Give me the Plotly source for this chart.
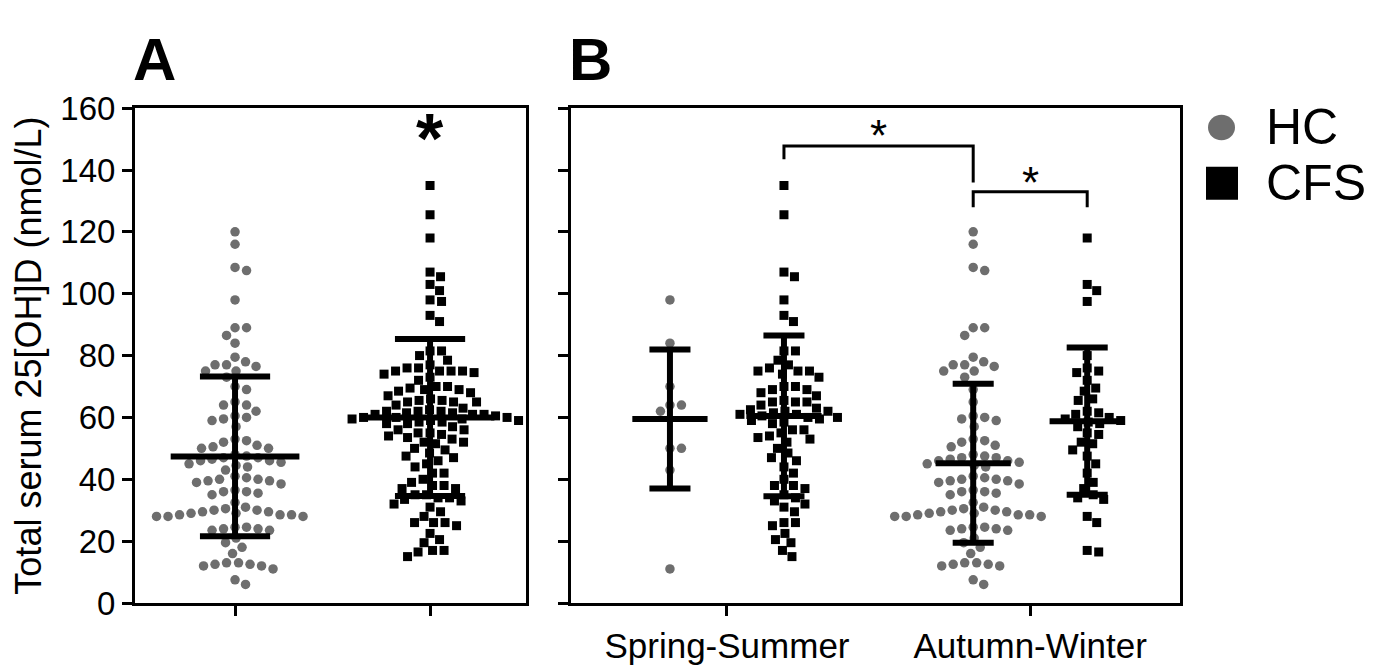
import numpy as np
import plotly.graph_objects as go

# ---------------- data (nmol/L) ----------------
ss_hc = [98, 84, 70, 64, 64, 62, 50, 50, 43, 11]
ss_cfs = [135, 125.5, 107, 105.5, 98, 93, 91, 81.5, 81.5, 78.5, 77, 76, 75, 75, 75, 74, 73,
          70, 70, 69, 69, 68, 67, 65.5, 65, 65, 65, 64, 63, 62.5, 62, 62, 61.5, 61, 61,
          60.5, 60, 60, 59.5, 59, 58.5, 58, 56, 56, 55, 54, 53.5, 53, 52, 50, 48.5, 47,
          46, 44, 42, 40, 38, 38, 37, 35, 34, 33, 32, 31, 29.5, 26, 26, 25, 22.5, 20.5,
          19.5, 17, 15]
aw_hc = [120, 116, 108.5, 107.5, 89, 89, 86.5, 79.5, 78, 77, 77, 76.5, 75, 75, 73, 69, 65,
         60.5, 60, 59.5, 59, 57, 53, 52.5, 52, 51, 50.5, 48, 47.5, 47, 47, 46.5, 46, 46,
         45.5, 45, 44.5, 44, 41, 40.5, 40, 40, 39.5, 39.5, 39, 38.5, 36.5, 36, 36, 35.5,
         35, 32.5, 31, 30.5, 30, 29.5, 29, 28.5, 28.5, 28, 28, 28, 28.5, 29, 29.5, 30,
         24.5, 24, 23.5, 23.5, 24, 24.5, 21, 19.5, 18, 16, 13, 12.5, 12, 12, 12.5, 13,
         7.5, 6]
aw_cfs = [118, 103, 101, 97.5, 80, 76, 75, 74.5, 72, 69.5, 68.5, 66, 65.5, 62, 61.5, 61,
          60, 59.5, 59, 58.5, 58, 57, 55, 54.5, 52, 51.5, 49.5, 47.5, 45, 42, 39, 37, 35,
          34, 33.5, 28, 26, 17, 16.5]
hc_all = ss_hc + aw_hc
cfs_all = ss_cfs + aw_cfs

# mean and SD as drawn in the figure
mean_A = [47.4, 60.0]
sd_A = [25.8, 25.4]
mean_B = [59.5, 60.5, 45.2, 58.8]
sd_B = [22.5, 26.0, 25.7, 23.8]

y_ticks = [0, 20, 40, 60, 80, 100, 120, 140, 160]
season_labels = ["Spring-Summer", "Autumn-Winter"]
legend_labels = ["HC", "CFS"]
sig_A = "*"
sig_B = ["*", "*"]

# ---------------- layout constants ----------------
W, H = 1376, 665
A_left, A_right = 127, 518
B_left, B_right = 563, 1172
Y_bot, Y_top = 611, 87
A_range = [0.487, 2.492]
B_range = [0.132, 5.474]
posA = [1, 2]
posB = [1, 2, 3.66, 4.66]
tickB = [1.5, 4.16]
Y_range = [0, 160]

FONT = "Liberation Sans, Arial, Helvetica, sans-serif"
HC_COLOR = "#6e6e6e"
CFS_COLOR = "#000000"

ppu_y = (Y_bot - Y_top) / (Y_range[1] - Y_range[0])
ppu_A = (A_right - A_left) / (A_range[1] - A_range[0])
ppu_B = (B_right - B_left) / (B_range[1] - B_range[0])


def swarm(vals, diam=11.5):
    """Beeswarm offsets (pixels) so that markers do not overlap."""
    v = np.asarray(vals, float)
    order = np.argsort(-v)
    placed = []
    offs = np.zeros(len(v))
    for i in order:
        y = v[i] * ppu_y
        found = None
        for k in range(0, 600):
            for sgn in ((1,) if k == 0 else (1, -1)):
                x = sgn * k * 0.5
                ok = True
                for px, py in placed:
                    if abs(py - y) < diam and (x - px) ** 2 + (y - py) ** 2 < diam ** 2:
                        ok = False
                        break
                if ok:
                    found = x
                    break
            if found is not None:
                break
        placed.append((found, y))
        offs[i] = found
    return offs


fig = go.Figure()


def add_group(vals, center, ppu_x, xa, ya, symbol, color, size):
    offs = swarm(vals) / ppu_x
    fig.add_trace(go.Scatter(
        x=center + offs, y=vals, mode="markers", xaxis=xa, yaxis=ya,
        marker=dict(symbol=symbol, color=color, size=size, line=dict(width=0)),
        showlegend=False, hoverinfo="y"))


def add_bar(center, m, s, xa, ya, half_mean=0.33, half_cap=0.18):
    xs = [center - half_mean, center + half_mean, None,
          center, center, None,
          center - half_cap, center + half_cap, None,
          center - half_cap, center + half_cap]
    ys = [m, m, None, m - s, m + s, None, m - s, m - s, None, m + s, m + s]
    fig.add_trace(go.Scatter(x=xs, y=ys, mode="lines", xaxis=xa, yaxis=ya,
                             line=dict(color="black", width=6),
                             showlegend=False, hoverinfo="skip"))


# Panel A
add_group(hc_all, posA[0], ppu_A, "x", "y", "circle", HC_COLOR, 9.5)
add_group(cfs_all, posA[1], ppu_A, "x", "y", "square", CFS_COLOR, 9)
for c, m, s in zip(posA, mean_A, sd_A):
    add_bar(c, m, s, "x", "y")

# Panel B
groupsB = [ss_hc, ss_cfs, aw_hc, aw_cfs]
for k, (vals, c) in enumerate(zip(groupsB, posB)):
    if k % 2 == 0:
        add_group(vals, c, ppu_B, "x2", "y2", "circle", HC_COLOR, 9.5)
    else:
        add_group(vals, c, ppu_B, "x2", "y2", "square", CFS_COLOR, 9)
for c, m, s in zip(posB, mean_B, sd_B):
    add_bar(c, m, s, "x2", "y2")

# significance brackets (panel B)
fig.add_trace(go.Scatter(x=[posB[1], posB[1], posB[2], posB[2]], y=[143.5, 147.8, 147.8, 136],
                         mode="lines", xaxis="x2", yaxis="y2",
                         line=dict(color="black", width=3), showlegend=False, hoverinfo="skip"))
fig.add_trace(go.Scatter(x=[posB[2], posB[2], posB[3], posB[3]], y=[128, 133, 133, 128],
                         mode="lines", xaxis="x2", yaxis="y2",
                         line=dict(color="black", width=3), showlegend=False, hoverinfo="skip"))

annotations = [
    dict(x=posA[1], y=150.0, xref="x", yref="y", text="<b>" + sig_A + "</b>", showarrow=False,
         font=dict(size=70, family=FONT, color="black"), yanchor="middle"),
    dict(x=(posB[1] + posB[2]) / 2, y=151, xref="x2", yref="y2", text=sig_B[0], showarrow=False,
         font=dict(size=44, family=FONT, color="black"), yanchor="middle"),
    dict(x=(posB[2] + posB[3]) / 2, y=136, xref="x2", yref="y2", text=sig_B[1], showarrow=False,
         font=dict(size=44, family=FONT, color="black"), yanchor="middle"),
    dict(x=146 / W, y=1 - 35 / H, xref="paper", yref="paper", text="<b>A</b>", showarrow=False,
         font=dict(size=60, family=FONT, color="black"), xanchor="center", yanchor="middle"),
    dict(x=582 / W, y=1 - 35 / H, xref="paper", yref="paper", text="<b>B</b>", showarrow=False,
         font=dict(size=60, family=FONT, color="black"), xanchor="center", yanchor="middle"),
    dict(x=1256 / W, y=1 - 107 / H, xref="paper", yref="paper", text=legend_labels[0],
         showarrow=False, font=dict(size=50, family=FONT, color="black"),
         xanchor="left", yanchor="middle"),
    dict(x=1256 / W, y=1 - 166 / H, xref="paper", yref="paper", text=legend_labels[1],
         showarrow=False, font=dict(size=50, family=FONT, color="black"),
         xanchor="left", yanchor="middle"),
]

shapes = [
    dict(type="circle", xref="paper", yref="paper",
         x0=1200 / W, x1=1227 / W, y0=1 - 121 / H, y1=1 - 94 / H,
         fillcolor=HC_COLOR, line=dict(width=0)),
    dict(type="rect", xref="paper", yref="paper",
         x0=1198 / W, x1=1230 / W, y0=1 - 184 / H, y1=1 - 149 / H,
         fillcolor="black", line=dict(width=0)),
]

axis_common = dict(showline=True, linewidth=3, linecolor="black", mirror=True,
                   showgrid=False, zeroline=False, ticks="outside", ticklen=10,
                   tickwidth=3, tickcolor="black")
ydom = [(H - Y_bot) / H, (H - Y_top) / H]

fig.update_layout(
    width=W, height=H,
    margin=dict(l=0, r=0, t=0, b=0),
    paper_bgcolor="white", plot_bgcolor="white",
    font=dict(family=FONT, color="black"),
    xaxis=dict(domain=[A_left / W, A_right / W], range=A_range, tickvals=posA,
               ticktext=["", ""], anchor="y", **axis_common),
    yaxis=dict(domain=ydom, range=Y_range, tickvals=y_ticks, anchor="x",
               tickfont=dict(size=33, family=FONT),
               title=dict(text="Total serum 25[OH]D (nmol/L)", font=dict(size=36, family=FONT),
                          standoff=10),
               **axis_common),
    xaxis2=dict(domain=[B_left / W, B_right / W], range=B_range, tickvals=tickB,
                ticktext=season_labels, tickfont=dict(size=35, family=FONT), anchor="y2",
                **axis_common),
    yaxis2=dict(domain=ydom, range=Y_range, tickvals=y_ticks, showticklabels=False,
                anchor="x2", **axis_common),
    annotations=annotations,
    shapes=shapes,
)

fig.write_html("out.html")
